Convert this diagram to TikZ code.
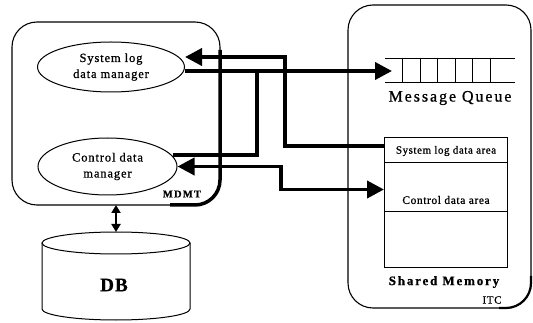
\documentclass[tikz,border=0pt]{standalone}
\usepackage{fontspec}
\setmainfont{Liberation Serif}
\usetikzlibrary{shapes.geometric,arrows.meta}
\newcommand\lspaced[1]{\addfontfeatures{LetterSpace=#1,FakeBold=0.8}}
\begin{document}
\begin{tikzpicture}[x=1pt,y=-1pt,
  box/.style={draw,line width=1.1pt,rounded corners=25pt,inner sep=0pt,outer sep=0pt},
  area/.style={draw,line width=1pt,minimum width=123pt,inner sep=0pt,outer sep=0pt},
  oval/.style={ellipse,draw,line width=1pt,inner sep=0pt,align=center,
    font=\fontsize{12.5}{16}\selectfont\lspaced{7}},
  flow/.style={line width=3.8pt},
  bigtip/.style={-{Triangle[length=17pt,width=17pt]}},
  bothtip/.style={{Triangle[length=17pt,width=17pt]}-{Triangle[length=17pt,width=17pt]}},
  dbtip/.style={{Triangle[length=8pt,width=9pt]}-{Triangle[length=8pt,width=9pt]}}]
\useasboundingbox (0,0) rectangle (533,323);

% containers
\node[box,minimum width=208pt,minimum height=183pt] (mdmt) at (116,113.5) {};
\node[box,minimum width=183pt,minimum height=303pt] (itc) at (439.5,156.5) {};
\draw[line width=3.5pt,rounded corners=25pt]
  ([yshift=-28pt]mdmt.north east) -- (mdmt.south east) -- ([xshift=-50pt]mdmt.south east);
\draw[line width=2.2pt,rounded corners=25pt]
  ([yshift=32pt]itc.south east) -- (itc.south east) -- ([xshift=-32pt]itc.south east);
\node[font=\fontsize{10.5}{12}\selectfont\bfseries\lspaced{12}] (mdmtlabel) at (182,194) {MDMT};
\node[font=\fontsize{11}{12}\selectfont\lspaced{6}] (itclabel) at (492,300) {ITC};

% managers
\node[oval,minimum width=147pt,minimum height=50pt] (slm) at (111,67) {System log\\data manager};
\node[oval,minimum width=139pt,minimum height=57pt] (cdm) at (107.5,166.5) {Control data\\manager};

% database
\draw[line width=1pt] (116,243) ellipse [x radius=74pt,y radius=11pt];
\draw[line width=1pt] (42,243) -- (42,309)
  arc[start angle=180,end angle=360,x radius=74pt,y radius=11pt] -- (190,243);
\coordinate (dbtop) at (116,232);
\node[font=\fontsize{19}{20}\selectfont\bfseries\lspaced{6}] (db) at (114,285) {DB};
\draw[line width=2.5pt,dbtip] (mdmt.south) -- (dbtop);

% message queue
\node[minimum width=130pt,minimum height=24pt,inner sep=0pt,outer sep=0pt] (mq) at (450,71) {};
\draw[line width=1pt] (mq.north west) -- (mq.north east) (mq.south west) -- (mq.south east);
\foreach \x in {402,420,437,455,472,490}
  \draw[line width=1pt] (\x,59) -- (\x,83);
\node[font=\fontsize{16}{18}\selectfont\lspaced{12}] (mqlabel) at (450,98) {Message Queue};

% shared memory
\node[area,minimum height=25pt] (smlog) at (445.5,150.5) {};
\node[area,minimum height=49pt] (smctl) at (445.5,187.5) {};
\node[area,minimum height=56pt] (smrest) at (445.5,240) {};
\node[font=\fontsize{11}{12}\selectfont\lspaced{5}] (smlogtext) at (446,151) {System log data area};
\node[font=\fontsize{11.5}{12}\selectfont\lspaced{5}] (smctltext) at (446,200) {Control data area};
\node[font=\fontsize{13}{14}\selectfont\bfseries\lspaced{14}] (smlabel) at (444,282) {Shared Memory};

% flows
\draw[flow,bigtip] ([yshift=4.5pt]smlog.west) -| (285,57) -- ([yshift=10pt]slm.east);
\draw[flow,bigtip] ([yshift=-4pt]slm.east) -- ([xshift=7pt]mq.west);
\draw[flow] ([xshift=-5pt,yshift=11.5pt]cdm.east) -| (257,71);
\draw[flow,bothtip] (cdm.east) -- (281,166.5) |- ([yshift=-2pt]smctl.west);
\end{tikzpicture}
\end{document}
